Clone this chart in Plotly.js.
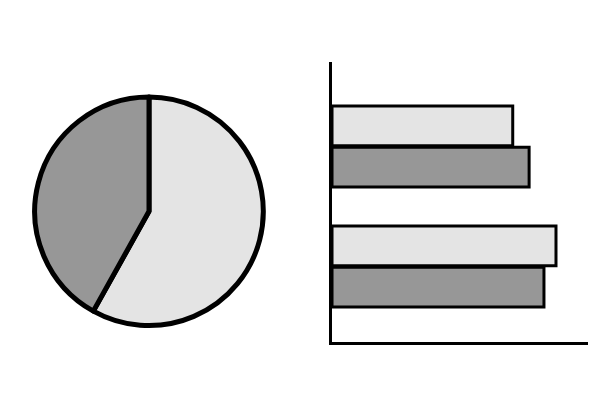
<!DOCTYPE html>
<html>
<head>
<meta charset="utf-8">
<script src="https://cdn.plot.ly/plotly-3.0.1.min.js"></script>
<style>html,body{margin:0;padding:0;background:#fff;}#chart{width:603px;height:400px;}</style>
</head>
<body>
<div id="chart"></div>
<script>
// Pie data
const pieLabels = ["Light", "Dark"];
const pieValues = [58.1, 41.9];
// Bar data
const barCategories = [0, 1];
const lightValues = [70.6, 87.5];
const darkValues = [77.0, 82.8];

const LIGHT = "#e4e4e4";
const DARK = "#979797";

const traces = [
  {
    type: "pie",
    labels: pieLabels,
    values: pieValues,
    sort: false,
    direction: "clockwise",
    rotation: 0,
    textinfo: "none",
    hoverinfo: "none",
    showlegend: false,
    marker: {colors: [LIGHT, DARK], line: {color: "#000", width: 5}},
    domain: {x: [0.0572, 0.4370], y: [0.1860, 0.7575]}
  },
  {
    type: "bar",
    orientation: "h",
    y: barCategories,
    x: lightValues,
    marker: {color: LIGHT, line: {color: "#000", width: 3}},
    showlegend: false,
    hoverinfo: "none",
    xaxis: "x", yaxis: "y"
  },
  {
    type: "bar",
    orientation: "h",
    y: barCategories,
    x: darkValues,
    marker: {color: DARK, line: {color: "#000", width: 3}},
    showlegend: false,
    hoverinfo: "none",
    xaxis: "x", yaxis: "y"
  }
];

const layout = {
  width: 603, height: 400,
  margin: {l: 0, r: 0, t: 0, b: 0},
  paper_bgcolor: "#fff", plot_bgcolor: "#fff",
  barmode: "group",
  bargap: 0.31,
  bargroupgap: 0.04,
  xaxis: {
    domain: [0.5506, 0.9751], range: [0, 100],
    showline: true, linecolor: "#000", linewidth: 3,
    showgrid: false, zeroline: false, showticklabels: false, ticks: ""
  },
  yaxis: {
    domain: [0.145, 0.845], range: [1.629, -0.704],
    showline: true, linecolor: "#000", linewidth: 3,
    showgrid: false, zeroline: false, showticklabels: false, ticks: ""
  }
};

Plotly.newPlot("chart", traces, layout, {staticPlot: true, displayModeBar: false});
</script>
</body>
</html>
